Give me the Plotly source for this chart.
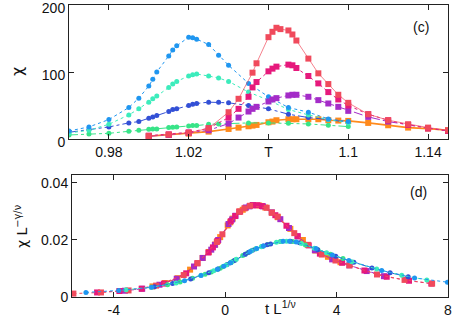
import plotly.graph_objects as go

# ---------------- top panel (c): chi vs T ----------------
T_circ = [0.96, 0.97, 0.98, 0.99, 0.995, 1.0, 1.002, 1.004, 1.01, 1.012, 1.014, 1.02,
          1.022, 1.024, 1.03, 1.035, 1.04, 1.05, 1.06, 1.07, 1.08, 1.09, 1.1]
chi_lightblue = [12, 18, 29, 47, 61, 79, 89, 100, 124, 133, 139, 152, 151, 149, 141, 125,
                 110, 83, 63, 47, 40, 30, 26]
chi_aqua = [9, 13, 22, 36, 45, 55, 60, 64, 77, 82, 86, 94, 96, 97, 94, 91, 86, 70, 58, 44,
            36, 29, 24]
chi_royal = [10, 14, 18, 24, 26, 31, 33, 35, 41, 44, 45, 50, 52, 53, 55, 55, 54, 50, 45, 37,
             32, 29, 25]
chi_green = [6, 7.5, 8.5, 11.5, 13, 14.5, 15, 15, 17, 17.5, 18, 19.5, 20, 20, 22, 22.5, 23.5,
             24, 24, 23.5, 22.5, 20.5, 18.5]

T_red = [1.0, 1.01, 1.02, 1.03, 1.04, 1.045, 1.052, 1.054, 1.06, 1.062, 1.064, 1.066, 1.07,
         1.072, 1.074, 1.08, 1.085, 1.09, 1.095, 1.1, 1.11, 1.12, 1.13, 1.14, 1.15]
chi_red = [4.5, 6.5, 9, 16, 40, 60, 99, 113, 152, 160, 166, 164, 162, 156, 147, 120, 98, 82,
           66, 54, 37, 28, 22, 17, 13]
T_sq = [1.0, 1.01, 1.02, 1.03, 1.04, 1.045, 1.05, 1.052, 1.054, 1.06, 1.062, 1.064, 1.07,
        1.072, 1.074, 1.08, 1.085, 1.09, 1.095, 1.1, 1.11, 1.12, 1.13, 1.14, 1.15]
chi_pink = [5, 7, 10, 16, 32, 45, 63, 77, 85, 101, 105, 108, 111, 110, 106, 94, 83, 70, 59,
            50, 37, 28, 21, 16, 12]
chi_purple = [4, 6, 9, 13, 23, 32, 41, 45, 48, 56, 59, 61, 65, 66, 66, 63, 58, 53, 48, 42, 33,
              26, 21, 16, 12]
chi_orange = [4, 6, 8, 11, 15, 17, 19, 20, 21, 25, 26, 28, 29.5, 29.5, 29.5, 29.5, 29.5, 28,
              27.5, 27, 24, 20.5, 17, 15.5, 13]

# ---------------- bottom panel (d): data collapse ----------------
x_red = [-5.45, -4.46, -3.47, -2.48, -1.49, -0.99, -0.30, -0.10, 0.50, 0.69, 0.89, 1.49, 1.68,
         1.88, 2.48, 2.97, 3.47, 3.96, 4.46, 5.45, 6.44, 7.43]
y_red = [0.0012, 0.0016, 0.0023, 0.0040, 0.0077, 0.0119, 0.0193, 0.0220, 0.0300, 0.0311,
         0.0320, 0.0313, 0.0296, 0.0282, 0.0224, 0.0183, 0.0149, 0.0128, 0.0111, 0.0079,
         0.0060, 0.0047]
x_pink = [-4.60, -3.80, -3.00, -2.20, -1.40, -1.00, -0.60, -0.44, -0.28, 0.20, 0.36, 0.52,
          1.00, 1.16, 1.32, 1.80, 2.20, 2.60, 3.00, 3.40, 4.20, 5.00, 5.80, 6.60, 7.40]
y_pink = [0.0016, 0.0021, 0.0029, 0.0047, 0.0083, 0.0118, 0.0156, 0.0174, 0.0196, 0.0266,
          0.0284, 0.0299, 0.0322, 0.0322, 0.0319, 0.0287, 0.0250, 0.0213, 0.0181, 0.0152,
          0.0120, 0.0093, 0.0071, 0.0057, 0.0047]
x_purple = [-3.60, -2.98, -2.36, -1.74, -1.12, -0.81, -0.50, -0.37, -0.25, 0.12, 0.25, 0.37,
            0.74, 0.87, 0.99, 1.36, 1.67, 1.98, 2.29, 2.60, 3.22, 3.84, 4.46, 5.08, 5.70]
y_purple = [0.0022, 0.0029, 0.0043, 0.0064, 0.0107, 0.0137, 0.0166, 0.0183, 0.0200, 0.0256,
            0.0272, 0.0285, 0.0314, 0.0318, 0.0322, 0.0318, 0.0297, 0.0273, 0.0242, 0.0213,
            0.0164, 0.0132, 0.0111, 0.0091, 0.0073]
x_orange = [-2.61, -2.16, -1.71, -1.26, -0.81, -0.59, -0.36, -0.27, -0.18, 0.09, 0.18, 0.27,
            0.54, 0.63, 0.72, 0.99, 1.22, 1.44, 1.67, 1.89, 2.34, 2.79, 3.24, 3.69, 4.14]
y_orange = [0.0037, 0.0049, 0.0066, 0.0096, 0.0137, 0.0158, 0.0184, 0.0197, 0.0210, 0.0251,
            0.0262, 0.0275, 0.0300, 0.0306, 0.0312, 0.0322, 0.0321, 0.0314, 0.0296, 0.0280,
            0.0239, 0.0200, 0.0163, 0.0141, 0.0122]

x_lightblue = [-5.00, -3.82, -2.64, -1.46, -0.87, -0.28, -0.05, 0.19, 0.90, 1.13, 1.37, 2.08,
               2.31, 2.55, 3.26, 3.85, 4.44, 5.62, 6.80, 7.98]
y_lightblue = [0.0016, 0.0023, 0.0034, 0.0057, 0.0075, 0.0097, 0.0108, 0.0120, 0.0160, 0.0170,
               0.0179, 0.0196, 0.0196, 0.0193, 0.0170, 0.0147, 0.0128, 0.0093, 0.0067, 0.0052]
x_aqua = [-3.56, -2.66, -1.76, -0.86, -0.41, 0.04, 0.22, 0.40, 0.94, 1.12, 1.30, 1.84, 2.02,
          2.20, 2.74, 3.20, 3.64, 4.54, 5.44, 6.34, 7.24]
y_aqua = [0.0025, 0.0034, 0.0049, 0.0076, 0.0092, 0.0112, 0.0122, 0.0132, 0.0162, 0.0169,
          0.0176, 0.0192, 0.0195, 0.0196, 0.0188, 0.0171, 0.0155, 0.0124, 0.0098, 0.0076, 0.0060]
x_royal = [-2.54, -1.89, -1.24, -0.59, -0.26, 0.07, 0.20, 0.33, 0.72, 0.85, 0.98, 1.37, 1.50,
           1.63, 2.02, 2.34, 2.67, 3.32, 3.97, 4.62, 5.27, 5.92, 6.57]
y_royal = [0.0036, 0.0047, 0.0063, 0.0085, 0.0098, 0.0114, 0.0120, 0.0128, 0.0150, 0.0157,
           0.0164, 0.0179, 0.0183, 0.0186, 0.0195, 0.0196, 0.0190, 0.0166, 0.0143, 0.0122,
           0.0102, 0.0085, 0.0071]
x_green = [-2.07, -1.62, -1.17, -0.72, -0.50, -0.27, -0.18, -0.09, 0.18, 0.27, 0.36, 0.63, 0.72,
           0.81, 1.08, 1.31, 1.53, 1.98, 2.43, 2.88, 3.33, 3.78, 4.23]
y_green = [0.0043, 0.0053, 0.0066, 0.0080, 0.0088, 0.0097, 0.0101, 0.0106, 0.0120, 0.0125,
           0.0130, 0.0146, 0.0150, 0.0155, 0.0168, 0.0177, 0.0184, 0.0195, 0.0195, 0.0182,
           0.0166, 0.0150, 0.0135]

top_ticks = [0.98, 1.02, 1.06, 1.1, 1.14]
top_ticktext = ["0.98", "1.02", "T", "1.1", "1.14"]

C_LB, C_AQ, C_RB, C_GR = "#1f96f0", "#3cecbc", "#3350d6", "#38e488"
C_RD, C_PK, C_PU, C_OR = "#f04a5c", "#e6197c", "#a42cc8", "#ff8a1c"

FONT = "Liberation Sans, Arial, sans-serif"
GFONT = "DejaVu Sans, Noto Sans, sans-serif"

fig = go.Figure()

def add(x, y, color, symbol, dash, width, xa, ya, size):
    fig.add_trace(go.Scatter(
        x=x, y=y, mode="lines+markers", xaxis=xa, yaxis=ya, showlegend=False,
        line=dict(color=color, dash=dash, width=width),
        marker=dict(color=color, symbol=symbol, size=size, line=dict(width=0)),
        cliponaxis=True))

# top panel
add(T_sq, chi_orange, C_OR, "square", "solid", 1.6, "x", "y", 6)
add(T_circ, chi_green, C_GR, "circle", "dashdot", 1, "x", "y", 5)
add(T_circ, chi_royal, C_RB, "circle", "dashdot", 1, "x", "y", 5)
add(T_circ, chi_aqua, C_AQ, "circle", "dot", 1, "x", "y", 5)
add(T_circ, chi_lightblue, C_LB, "circle", "dot", 1, "x", "y", 5)
add(T_sq, chi_purple, C_PU, "square", "dashdot", 1, "x", "y", 6)
add(T_sq, chi_pink, C_PK, "square", "dot", 1, "x", "y", 6)
add(T_red, chi_red, C_RD, "square", "solid", 0.7, "x", "y", 6)

# bottom panel
add(x_orange, y_orange, C_OR, "square", "solid", 1.2, "x2", "y2", 6)
add(x_purple, y_purple, C_PU, "square", "dashdot", 1, "x2", "y2", 6)
add(x_pink, y_pink, C_PK, "square", "dot", 1, "x2", "y2", 6)
add(x_red, y_red, C_RD, "square", "dot", 1, "x2", "y2", 6)
add(x_green, y_green, C_GR, "circle", "dashdot", 1, "x2", "y2", 5)
add(x_royal, y_royal, C_RB, "circle", "dashdot", 1, "x2", "y2", 5)
add(x_aqua, y_aqua, C_AQ, "circle", "dot", 1, "x2", "y2", 5)
add(x_lightblue, y_lightblue, C_LB, "circle", "dot", 1, "x2", "y2", 5)

W, H = 463, 324
axis_common = dict(showline=True, linecolor="#222", linewidth=1, mirror="ticks",
                   ticks="inside", ticklen=5, tickcolor="#222", showgrid=False,
                   zeroline=False, automargin=False, ticklabeloverflow="allow",
                   tickfont=dict(family=FONT, size=14, color="#111"))

def ann(text, px, py, size, family=FONT, angle=0):
    return dict(text=text, x=px / W, y=(H - py) / H, xref="paper", yref="paper",
                xanchor="center", yanchor="middle", showarrow=False, textangle=angle,
                font=dict(family=family, size=size, color="#111"))

fig.update_layout(
    width=W, height=H, margin=dict(l=0, r=0, t=0, b=0),
    template="none", paper_bgcolor="white", plot_bgcolor="white",
    font=dict(family=FONT, size=14, color="#111"),
    xaxis=dict(domain=[69 / W, 448 / W], range=[0.96, 1.15], anchor="y",
               tickvals=top_ticks, ticktext=top_ticktext, **axis_common),
    yaxis=dict(domain=[(H - 139) / H, (H - 5) / H], range=[0, 200], anchor="x",
               tickvals=[0, 100, 200], ticklabelshift=3, **axis_common),
    xaxis2=dict(domain=[72 / W, 448 / W], range=[-5.5, 8], anchor="y2",
                tickvals=[-4, 0, 4, 8], ticktext=["-4", "0", "4", "8"], **axis_common),
    yaxis2=dict(domain=[(H - 297) / H, (H - 175) / H], range=[0, 0.0428], anchor="x2",
                tickvals=[0, 0.02, 0.04], ticktext=["0", "0.02", "0.04"], **axis_common),
    annotations=[
        ann("χ", 17, 72, 16, GFONT, -90),
        ann("(c)", 421, 27, 14),
        ann("(d)", 418, 192, 14),
        ann("χ L<sup>−γ/ν</sup>", 21, 226, 14, GFONT, -90),
        ann("t L<sup>1/ν</sup>", 280, 307, 15),
    ],
)

fig.write_html("out.html", post_script="document.body.style.margin='0px';",
               config={"displayModeBar": False})
